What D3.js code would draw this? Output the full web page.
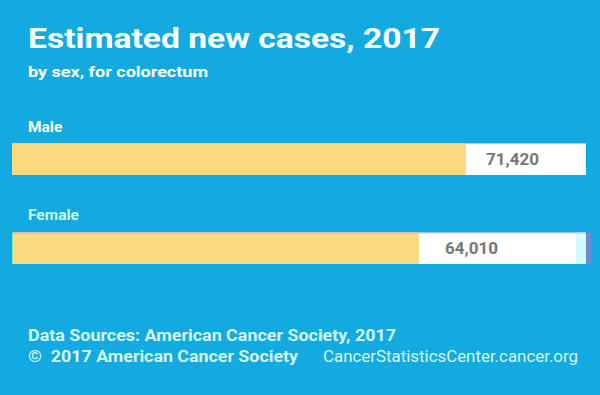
<!DOCTYPE html>
<html><head><meta charset="utf-8">
<script src="https://cdn.jsdelivr.net/npm/d3@7"></script>
<style>html,body{margin:0;padding:0;background:#12aae0;}svg{display:block;}</style>
</head><body>
<script>
const categories = ["Male", "Female"];
const values = [71420, 64010];
const domainMax = [90300];
const title = "Estimated new cases, 2017";
const subtitle = "by sex, for colorectum";
const sources = "Data Sources: American Cancer Society, 2017";
const copyright = "©  2017 American Cancer Society";
const site = "CancerStatisticsCenter.cancer.org";

const W = 600, H = 395;
const svg = d3.select("body").append("svg").attr("width", W).attr("height", H);
svg.append("rect").attr("width", W).attr("height", H).attr("fill", "#12aae0");

const font = "Roboto, 'Open Sans', sans-serif";
svg.append("text").attr("x", 28).attr("y", 48).text(title)
  .attr("font-family", font).attr("font-weight", 700).attr("font-size", 27.5).attr("fill", "#fff")
  .attr("textLength", 412).attr("lengthAdjust", "spacingAndGlyphs");
svg.append("text").attr("x", 28).attr("y", 77).text(subtitle)
  .attr("font-family", font).attr("font-weight", 700).attr("font-size", 15.5).attr("fill", "#fff")
  .attr("textLength", 180).attr("lengthAdjust", "spacingAndGlyphs");

const x = d3.scaleLinear().domain([0, domainMax[0]]).range([12, 586]);
const y = d3.scaleBand().domain(categories).range([143.5, 264]).paddingInner(0.646).paddingOuter(0);
const labelColors = {Male: "#ffffff", Female: "#c8ffff"};
const valueLabelX = {Male: 512.5, Female: 471.5};

const g = svg.append("g");
categories.forEach((c, i) => {
  const top = y(c), bh = y.bandwidth();
  g.append("text").attr("x", 28).attr("y", top - 12).text(c)
    .attr("font-family", font).attr("font-weight", 700).attr("font-size", 15.5)
    .attr("fill", labelColors[c]);
  g.append("rect").attr("x", x(0)).attr("y", top).attr("width", x(domainMax[0]) - x(0)).attr("height", bh)
    .attr("fill", "#ffffff");
  if (c === "Female") {
    g.append("rect").attr("x", x(domainMax[0]) - 10).attr("y", top).attr("width", 10).attr("height", bh)
      .attr("fill", "#d2fbff");
    g.append("rect").attr("x", x(domainMax[0])).attr("y", top).attr("width", 5).attr("height", bh)
      .attr("fill", "#6d86de");
    g.append("rect").attr("x", x(0)).attr("y", top).attr("width", 1.5).attr("height", bh)
      .attr("fill", "#7fe89a");
  }
  g.append("rect").attr("x", x(0) + (c === "Female" ? 1.5 : 0)).attr("y", top)
    .attr("width", x(values[i]) - x(0) - (c === "Female" ? 1.5 : 0)).attr("height", bh)
    .attr("fill", "#fad97f");
  if (c === "Female") {
    g.append("rect").attr("x", x(0)).attr("y", top).attr("width", x(domainMax[0]) - x(0)).attr("height", 1)
      .attr("fill", "#c98fd8").attr("opacity", 0.6);
  }
  g.append("text").attr("x", valueLabelX[c]).attr("y", top + bh / 2 + 6)
    .attr("text-anchor", "middle").text(d3.format(",")(values[i]))
    .attr("font-family", font).attr("font-weight", 700).attr("font-size", 17)
    .attr("fill", "#777777");
});

svg.append("text").attr("x", 28).attr("y", 341).text(sources)
  .attr("font-family", font).attr("font-weight", 700).attr("font-size", 16).attr("fill", "#d4f8ff")
  .attr("textLength", 368).attr("lengthAdjust", "spacingAndGlyphs");
svg.append("text").attr("x", 28).attr("y", 362).text(copyright).attr("xml:space", "preserve")
  .attr("font-family", font).attr("font-weight", 700).attr("font-size", 16).attr("fill", "#d4f8ff")
  .attr("textLength", 270).attr("lengthAdjust", "spacingAndGlyphs");
svg.append("text").attr("x", 323).attr("y", 362).text(site)
  .attr("font-family", font).attr("font-weight", 400).attr("font-size", 17).attr("fill", "#d4f8ff")
  .attr("textLength", 255).attr("lengthAdjust", "spacingAndGlyphs");
</script>
</body></html>
